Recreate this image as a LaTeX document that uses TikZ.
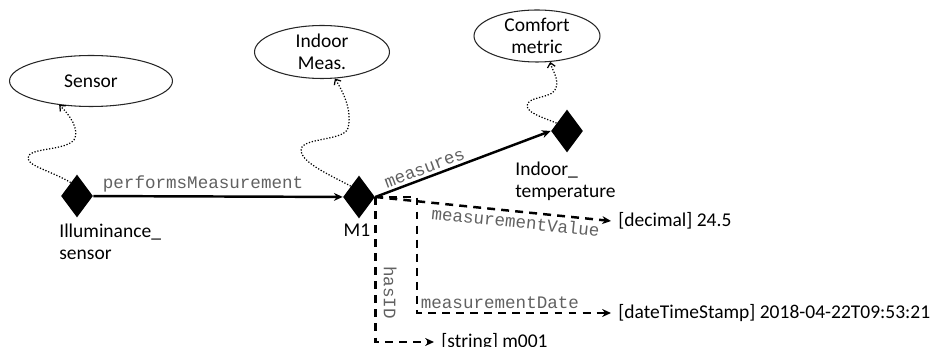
\documentclass[tikz,border=0pt]{standalone}
\usepackage{fontspec}
\setmainfont{Carlito}
\setmonofont{Liberation Mono}
\usetikzlibrary{shapes.geometric,arrows.meta}
\begin{document}
\begin{tikzpicture}[x=0.02cm,y=-0.02cm,
  every node/.style={font=\fontsize{11.1}{12.5}\selectfont},
  inst/.style={diamond,fill=black,draw=none,minimum width=0.64cm,minimum height=0.86cm,inner sep=0pt},
  cls/.style={ellipse,draw=black!85,line width=0.6pt,align=center,inner sep=0pt},
  lbl/.style={align=left,inner sep=0pt},
  tgt/.style={anchor=west,inner sep=0pt,inner xsep=4pt},
  prop/.style={font=\ttfamily\fontsize{10}{12}\selectfont,text=black!62,inner sep=1.5pt},
  rel/.style={line width=1.4pt,-{Stealth[length=5pt,width=4.5pt]}},
  dat/.style={rel,dash pattern=on 4.5pt off 3.5pt},
  typ/.style={densely dotted,line width=0.7pt,-{Straight Barb[length=2.5pt,width=4.5pt]}}
]
\useasboundingbox (0,0) rectangle (936,347);

% classes
\node[cls,minimum width=3.26cm,minimum height=1.02cm] (sensor) at (91,81) {Sensor};
\node[cls,minimum width=2.7cm,minimum height=1.06cm] (meas) at (322,52) {Indoor\\Meas.};
\node[cls,minimum width=2.52cm,minimum height=1.04cm] (comfort) at (537,36) {Comfort\\metric};

% instances
\node[inst] (ill) at (77,196) {};
\node[inst] (m1) at (359,197) {};
\node[inst] (temp) at (567,131) {};

% instance labels
\node[lbl,anchor=north west] (illlbl) at (59,224) {Illuminance\_\\sensor};
\node[lbl,anchor=north] (m1lbl) at (357,224) {M1};
\node[lbl,anchor=north west] (templbl) at (515,162) {Indoor\_\\temperature};

% literal targets
\node[tgt] (dec) at (611,221) {[decimal] 24.5};
\node[tgt] (date) at (611,313) {[dateTimeStamp] 2018-04-22T09:53:21};
\node[tgt] (sid) at (434,342) {[string] m001};
\coordinate (bend) at (417,313);

% object properties
\draw[rel] (ill) -- (m1) node[prop,above,pos=0.44] (lperf) {performsMeasurement};
\draw[rel] (m1.east) -- (temp.west) node[prop,sloped,above,pos=0.3] (lmeasures) {measures};

% data properties
\draw[dat] (m1.east) -- (dec.west) node[prop,sloped,below,pos=0.6] (lval) {measurementValue};
\draw[dat] (m1.east) -| (bend) node[prop,anchor=south west] (ldate) {measurementDate} -- (date.west);
\draw[dat] (m1.east) |- (sid.west) node[prop,rotate=-90,anchor=south,inner sep=4pt,pos=0.33] (lid) {hasID};

% rdf:type links
\draw[typ] (ill.115) .. controls (50,170) and (22,165) .. (29,155) .. controls (36,148) and (65,150) .. (74,140) .. controls (80,130) and (70,115) .. (sensor.217);
\draw[typ] (m1.127) .. controls (330,175) and (295,160) .. (302,147) .. controls (308,138) and (345,140) .. (348,128) .. controls (352,112) and (345,95) .. (meas.296);
\draw[typ] (temp.143) .. controls (545,118) and (522,112) .. (528,103) .. controls (533,96) and (553,98) .. (556,88) .. controls (559,78) and (552,70) .. (comfort.297);
\end{tikzpicture}
\end{document}
